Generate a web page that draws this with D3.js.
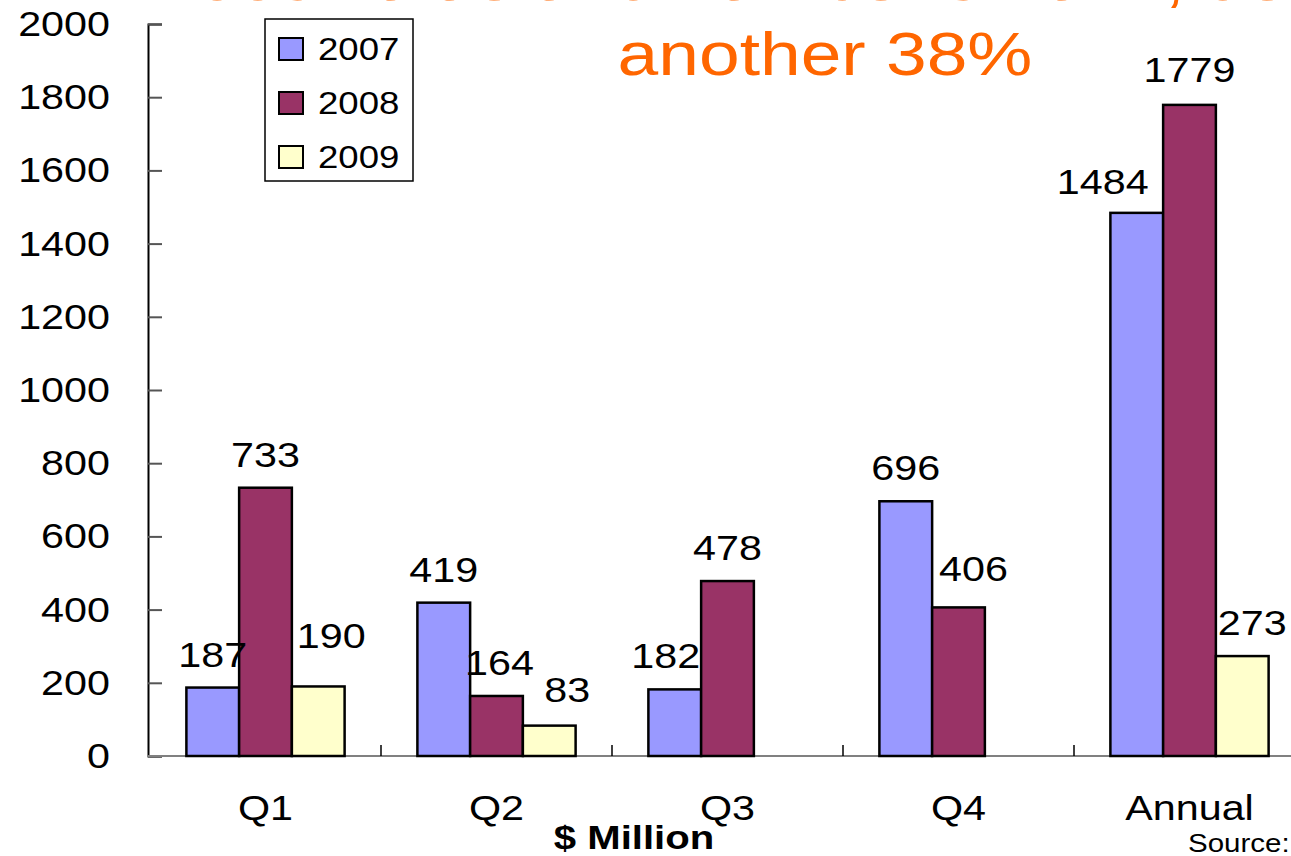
<!DOCTYPE html>
<html lang="en">
<head>
<meta charset="utf-8">
<title>deal value by quarter</title>
<script src="https://cdn.jsdelivr.net/npm/d3@7"></script>
<style>
  body { margin: 0; background: #fff; }
  text { font-family: Arial, "Liberation Sans", sans-serif; }
</style>
</head>
<body>
<script>
// data ($ Million)
var categories = ["Q1", "Q2", "Q3", "Q4", "Annual"];
var years = ["2007", "2008", "2009"];
var v2007 = [187, 419, 182, 696, 1484];
var v2008 = [733, 164, 478, 406, 1779];
var v2009 = [190, 83, null, null, 273];
var yTicks = [0, 200, 400, 600, 800, 1000, 1200, 1400, 1600, 1800, 2000];
var titleLines = ["2009 value and number shrank, deal size", "another 38%"];

var colors = ["#9999ff", "#993366", "#ffffcc"];
// the labels in the slide were dragged by hand a bit, so nudge some
var nudge = {
  "Q1-2009": [13, -17], "Q2-2008": [3, 0], "Q2-2009": [18, -3],
  "Q3-2007": [-9, 0], "Q4-2008": [15, -5], "Annual-2007": [-34, 2],
  "Annual-2008": [0, -2], "Annual-2009": [10, 0]
};

var w = 1291, h = 856;
var sx = 1.18; // the source picture is stretched sideways

var svg = d3.select("body").append("svg")
    .attr("width", w)
    .attr("height", h);

var series = [v2007, v2008, v2009];
var rows = [];
categories.forEach(function(c, i) {
  years.forEach(function(yr, j) {
    rows.push({cat: c, year: yr, value: series[j][i]});
  });
});

var x = d3.scaleBand().domain(categories).range([150, 1305]);
var xs = d3.scaleBand().domain(years).range([0, x.bandwidth()]).paddingOuter(0.69);
var y = d3.scaleLinear().domain([0, 2000]).range([756, 24]);
var color = d3.scaleOrdinal().domain(years).range(colors);

function txt(parent, s, px, py, size, anchor) {
  return parent.append("text")
      .attr("transform", "translate(" + px + "," + py + ") scale(" + sx + ",1)")
      .attr("font-size", size)
      .attr("text-anchor", anchor || "middle")
      .text(s);
}

// title (first line is cut off at the top)
txt(svg, titleLines[0], 825, 0, 62).attr("fill", "#ff6600");
txt(svg, titleLines[1], 825, 75, 62).attr("fill", "#ff6600");

// y axis
var yaxis = d3.axisRight(y).tickValues(yTicks).tickSize(14).tickFormat("");
var gy = svg.append("g").attr("transform", "translate(148,0)").call(yaxis);
gy.select(".domain").attr("stroke", "#000").attr("stroke-width", 2);
gy.selectAll(".tick line").attr("stroke", "#555").attr("stroke-width", 2);
yTicks.forEach(function(t) {
  txt(svg, t, 110, y(t) + 12, 35, "end");
});

// x axis, ticks between categories
var gx = svg.append("g");
gx.append("line").attr("x1", 148).attr("x2", w).attr("y1", 756).attr("y2", 756)
    .attr("stroke", "#808080").attr("stroke-width", 2);
categories.forEach(function(c) {
  gx.append("line")
      .attr("x1", x(c) + x.bandwidth()).attr("x2", x(c) + x.bandwidth())
      .attr("y1", 745).attr("y2", 756)
      .attr("stroke", "#000").attr("stroke-width", 1.5);
  txt(svg, c, x(c) + x.bandwidth() / 2, 820, 35);
});

// bars
var bars = rows.filter(function(d) { return d.value != null; });
svg.selectAll("rect.bar")
    .data(bars)
    .enter()
    .append("rect")
    .attr("class", "bar")
    .attr("x", function(d) { return x(d.cat) + xs(d.year); })
    .attr("y", function(d) { return y(d.value); })
    .attr("width", xs.bandwidth())
    .attr("height", function(d) { return y(0) - y(d.value); })
    .attr("fill", function(d) { return color(d.year); })
    .attr("stroke", "#000")
    .attr("stroke-width", 2.5);

// value labels
bars.forEach(function(d) {
  var n = nudge[d.cat + "-" + d.year] || [0, 0];
  var cx = x(d.cat) + xs(d.year) + xs.bandwidth() / 2 + n[0];
  txt(svg, d.value, cx, y(d.value) - 21 + n[1], 35);
});

// legend
var lg = svg.append("g");
lg.append("rect").attr("x", 265).attr("y", 19).attr("width", 148).attr("height", 162)
    .attr("fill", "#fff").attr("stroke", "#000").attr("stroke-width", 1.5);
years.forEach(function(yr, i) {
  var cy = 49 + i * 54;
  lg.append("rect").attr("x", 279).attr("y", cy - 11).attr("width", 24).attr("height", 22)
      .attr("fill", color(yr)).attr("stroke", "#000").attr("stroke-width", 2);
  txt(lg, yr, 318, cy + 11, 31, "start");
});

// footer
txt(svg, "$ Million", 634, 849, 34).attr("font-weight", "bold");
txt(svg, "Source:", 1188, 852, 25, "start");
</script>
</body>
</html>
